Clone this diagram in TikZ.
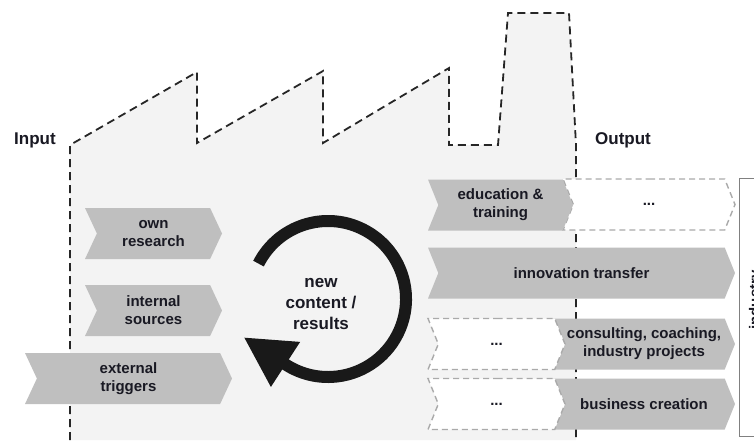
\documentclass[tikz,border=0pt]{standalone}
\usepackage{fontspec}
\setmainfont{Liberation Sans}
\usetikzlibrary{shapes.symbols, arrows.meta}
\definecolor{fcText}{RGB}{25, 25, 35}
\definecolor{fcWall}{RGB}{243, 243, 243}
\definecolor{fcBox}{RGB}{191, 191, 191}
\definecolor{fcDash}{RGB}{170, 170, 170}
\definecolor{fcFrame}{RGB}{128, 128, 128}
\tikzset{
    base/.style={
        font=\fontsize{15}{18}\selectfont\bfseries,
        text=fcText,
        align=center
    },
    heading/.style={
        base,
        font=\fontsize{17}{21}\selectfont\bfseries
    },
    chevron/.style={
        base,
        shape=signal,
        signal from=west,
        signal to=east,
        inner sep=0pt
    },
    inbox/.style={
        chevron,
        fill=fcBox,
        signal pointer angle=130,
        minimum height=51pt
    },
    outbox/.style={
        chevron,
        fill=fcBox,
        signal pointer angle=136,
        minimum height=51pt
    },
    openbox/.style={
        outbox,
        fill=white,
        draw=fcDash,
        line width=1.4pt,
        dash pattern=on 6pt off 4pt
    },
    wall/.style={
        draw=black!85,
        line width=1.8pt,
        dash pattern=on 8pt off 5pt
    },
    loopring/.style={
        line width=12pt,
        black!90,
        -{Triangle[length=50pt, width=50pt]}
    }
}

\begin{document}
\begin{tikzpicture}[x=1pt, y=-1pt]
  \useasboundingbox (0,0) rectangle (754,440);

  % Factory
  \fill[fcWall] (70,440) -- (70,145) -- (197,72) -- (197,143) -- (323,71) -- (323,143)
    -- (449,68) -- (449,145) -- (498,145) -- (508,13) -- (569,13) -- (576,145) -- (576,440) -- cycle;
  \draw[wall] (70,440) -- (70,145) -- (197,72) -- (197,143) -- (323,71) -- (323,143)
    -- (449,68) -- (449,145) -- (498,145) -- (508,13) -- (569,13) -- (576,145) -- (576,440);

  % Headings
  \node[heading] (input) at (35,140) {Input};
  \node[heading] (output) at (623,140) {Output};

  % Input
  \node[inbox, minimum width=137pt] (ownres) at (153.5,233.5) {own\\research};
  \node[inbox, minimum width=137pt] (intsrc) at (153.5,310.5) {internal\\sources};
  \node[inbox, minimum width=207pt] (exttrig) at (128.5,378.5) {external\\triggers};

  % Cycle
  \coordinate (hub) at (328,299);
  \node[heading] (results) at (321,304) {new\\content /\\results};
  \draw[loopring] (hub) ++(-153:78) arc[start angle=-153, end angle=123, radius=78] -- ++(-147:50);

  % Output
  \node[openbox, minimum width=172pt] (more1) at (649,204.5) {...};
  \node[outbox, minimum width=145pt] (edu) at (500.5,205) {education \&\\training};
  \node[outbox, minimum width=307pt] (innov) at (581.5,273) {innovation transfer};
  \node[outbox, minimum width=182pt] (consult) at (644,344) {consulting, coaching,\\industry projects};
  \node[openbox, minimum width=137pt] (more2) at (496.5,344) {...};
  \node[outbox, minimum width=182pt] (bizcre) at (644,404) {business creation};
  \node[openbox, minimum width=137pt] (more3) at (496.5,404) {...};

  % Industry
  \draw[fcFrame, line width=0.8pt] (739,178) rectangle (800,436);
  \node[base, rotate=90] (industry) at (756,300) {industry};
\end{tikzpicture}
\end{document}
